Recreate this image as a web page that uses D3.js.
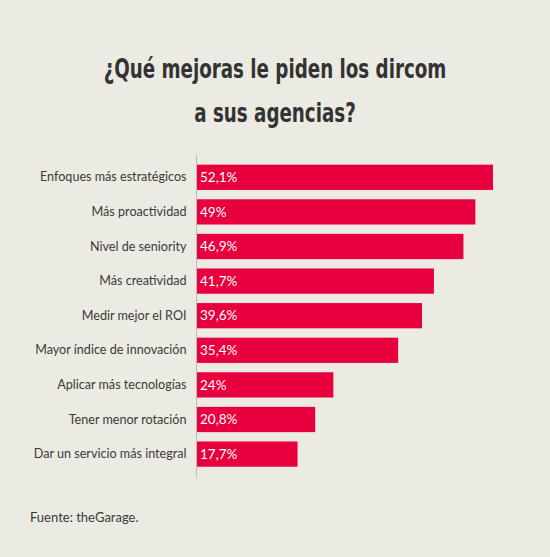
<!DOCTYPE html>
<html>
<head>
<meta charset="utf-8">
<script src="https://cdn.jsdelivr.net/npm/d3@7"></script>
<style>
  body { margin: 0; background: #ecebe3; }
  svg { display: block; }
</style>
</head>
<body>
<svg id="chart" width="550" height="557"></svg>
<script>
const categories = [
    "Enfoques más estratégicos",
    "Más proactividad",
    "Nivel de seniority",
    "Más creatividad",
    "Medir mejor el ROI",
    "Mayor índice de innovación",
    "Aplicar más tecnologías",
    "Tener menor rotación",
    "Dar un servicio más integral"
];
const values = [52.1, 49, 46.9, 41.7, 39.6, 35.4, 24, 20.8, 17.7];
const valueLabels = ["52,1%", "49%", "46,9%", "41,7%", "39,6%", "35,4%", "24%", "20,8%", "17,7%"];

const titleLines = ["¿Qué mejoras le piden los dircom", "a sus agencias?"];
const source = "Fuente: theGarage.";

const svg = d3.select("#chart");
const data = categories.map((c, i) => ({ cat: c, value: values[i], label: valueLabels[i] }));

const plotLeft = 197, plotTop = 160;
const plotBottom = plotTop + 34.6 * 9;

const x = d3.scaleLinear().domain([0, 52.1]).range([plotLeft, 493]);
const y = d3.scaleBand().domain(categories).range([plotTop, plotBottom]).paddingInner(0.27).paddingOuter(0.135);

// title: condensed bold, fitted to ~343px wide and stretched a bit taller
const title = svg.selectAll(".title")
    .data(titleLines)
    .join("text")
    .attr("class", "title")
    .attr("text-anchor", "middle")
    .attr("font-family", "'DejaVu Sans Condensed', sans-serif")
    .attr("font-weight", "bold")
    .attr("font-size", 28)
    .attr("fill", "#333333")
    .text(d => d);
const w = title.node().getComputedTextLength();
const fs = 28 * 343 / w;
const sy = 20 / (0.729 * fs);
title.attr("font-size", fs)
    .attr("transform", (d, i) => `translate(275,${78 + i * 44}) scale(1,${sy})`);

// bars
svg.selectAll(".bar")
    .data(data)
    .join("rect")
    .attr("class", "bar")
    .attr("x", x(0))
    .attr("y", d => y(d.cat))
    .attr("width", d => x(d.value) - x(0))
    .attr("height", y.bandwidth())
    .attr("fill", "#e8003e");

// value labels
svg.selectAll(".val")
    .data(data)
    .join("text")
    .attr("class", "val")
    .attr("x", x(0) + 3)
    .attr("y", d => y(d.cat) + y.bandwidth() / 2)
    .attr("dy", "0.35em")
    .attr("font-family", "Lato, sans-serif")
    .attr("font-size", 13.5)
    .attr("fill", "#ffffff")
    .text(d => d.label);

// category axis
const axis = svg.append("g")
    .attr("transform", `translate(${plotLeft - 0.5},0)`)
    .call(d3.axisLeft(y).tickSize(0).tickPadding(10));
axis.select(".domain")
    .attr("d", `M0,${plotTop - 5}V${plotBottom + 6}`)
    .attr("stroke", "#bdbcb5");
axis.selectAll("text")
    .attr("font-family", "Lato, sans-serif")
    .attr("font-size", 12.6)
    .attr("fill", "#3a3a3a");

// source
svg.append("text")
    .attr("x", 30)
    .attr("y", 522)
    .attr("font-family", "Lato, sans-serif")
    .attr("font-size", 13)
    .attr("fill", "#3a3a3a")
    .text(source);
</script>
</body>
</html>
